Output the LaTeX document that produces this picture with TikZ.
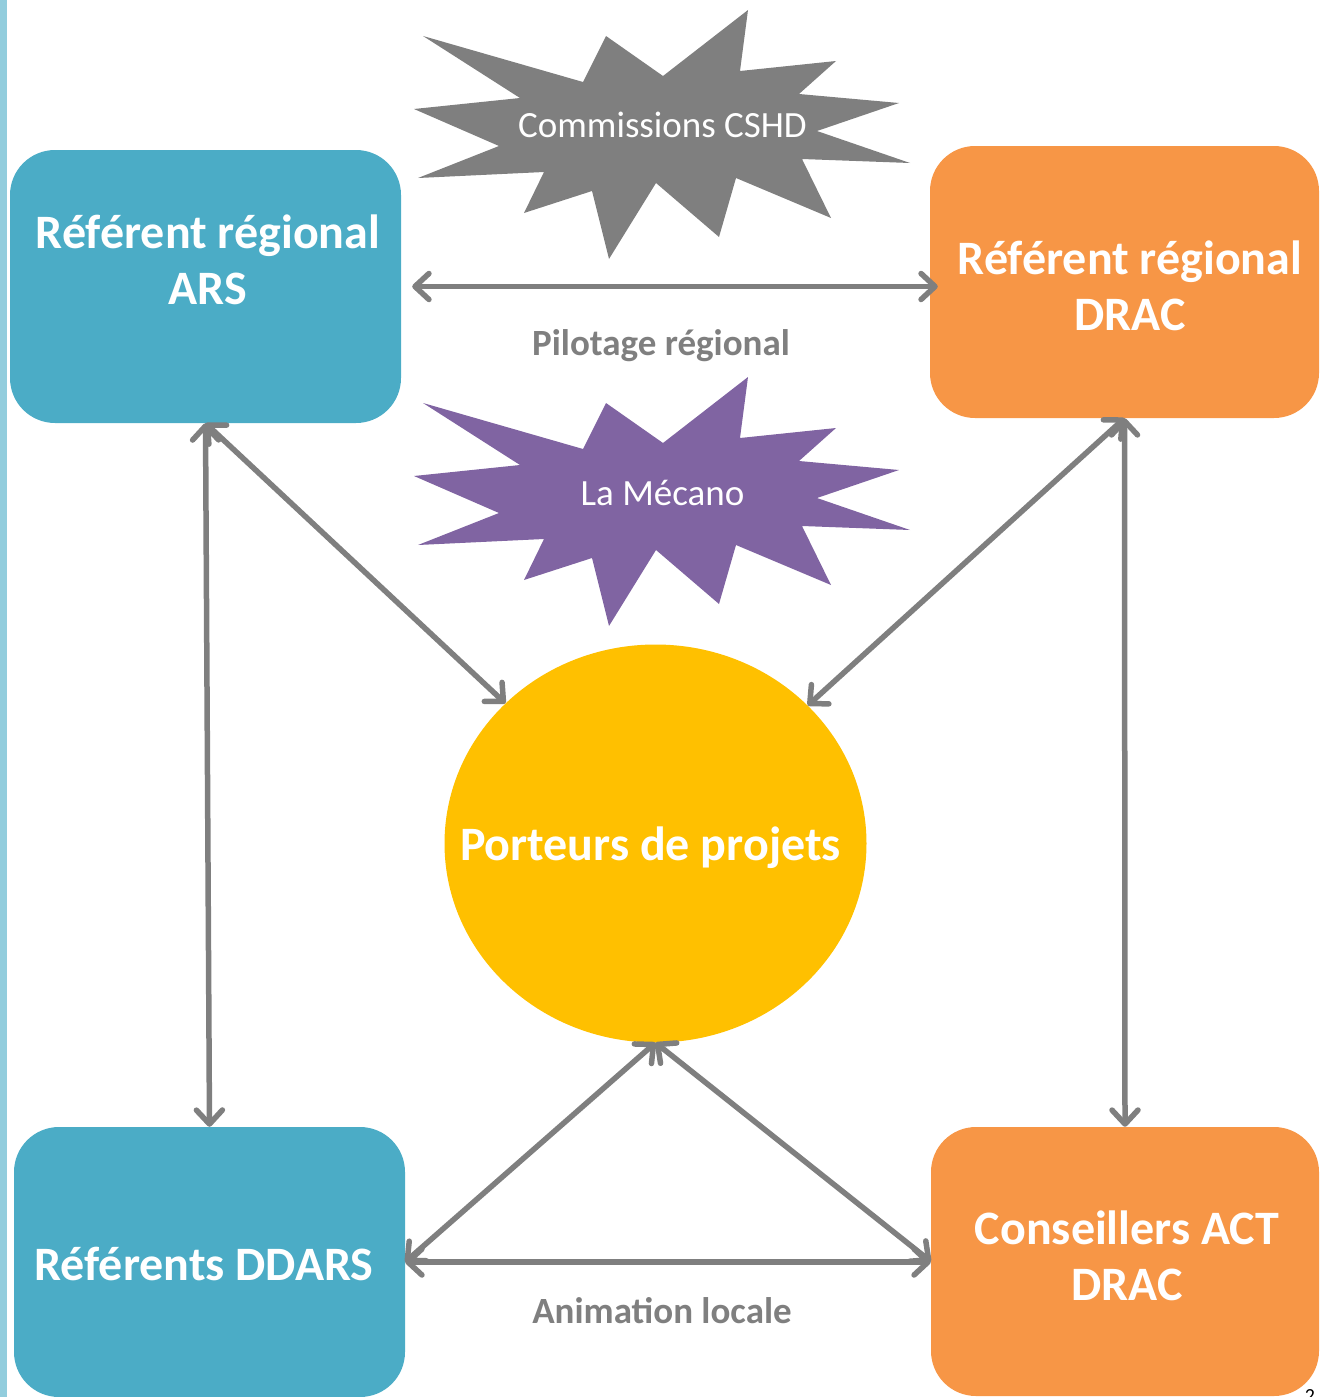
\documentclass[tikz,border=0pt]{standalone}
\usepackage{fontspec}
\setmainfont{Carlito}
\usetikzlibrary{arrows.meta,shapes.geometric}
\definecolor{ablue}{HTML}{4BACC6}
\definecolor{aorange}{HTML}{F79646}
\definecolor{ayellow}{HTML}{FFC000}
\definecolor{agray}{HTML}{7F7F7F}
\definecolor{apurple}{HTML}{8064A2}
\definecolor{astrip}{HTML}{92CDDD}
\begin{document}
\begin{tikzpicture}[x=1pt,y=-1pt,
  box/.style={rectangle, rounded corners=45pt, inner sep=0pt},
  boxtext/.style={text=white, font=\bfseries\fontsize{48}{56}\selectfont, align=center, inner sep=0pt},
  arr/.style={draw=agray, line width=5.5pt,
    {Straight Barb[length=14pt,width=26pt,round]}-{Straight Barb[length=14pt,width=26pt,round]}},
  lbl/.style={text=agray, font=\bfseries\fontsize{37}{42}\selectfont, inner sep=0pt},
  startext/.style={text=white, font=\fontsize{37}{42}\selectfont, inner sep=0pt}]

\useasboundingbox (0,0) rectangle (1320,1397);
\fill[astrip] (0,0) rectangle (7,1397);

% starbursts
\fill[agray] (423,36) -- (583,82) -- (606,36) -- (663,76) -- (748,10) -- (740,71)
  -- (836,61) -- (799,94) -- (899,103) -- (817,131) -- (910,163) -- (802,159)
  -- (831,218) -- (736,178) -- (719,237) -- (656,183) -- (609,259) -- (592,191)
  -- (524,213) -- (544,172) -- (418,178) -- (499,146) -- (414,109) -- (520,98) -- cycle;
\begin{scope}[shift={(0,367)}]
\fill[apurple] (423,36) -- (583,82) -- (606,36) -- (663,76) -- (748,10) -- (740,71)
  -- (836,61) -- (799,94) -- (899,103) -- (817,131) -- (910,163) -- (802,159)
  -- (831,218) -- (736,178) -- (719,237) -- (656,183) -- (609,259) -- (592,191)
  -- (524,213) -- (544,172) -- (418,178) -- (499,146) -- (414,109) -- (520,98) -- cycle;
\end{scope}
\node[startext, anchor=base] (cshd) at (662.5,137) {Commissions CSHD};
\node[startext, anchor=base] (meca) at (662.5,505) {La Mécano};

% boxes
\node[box, fill=ablue, minimum width=391pt, minimum height=273pt] (ars) at (205.5,286.5) {};
\node[box, fill=aorange, minimum width=389pt, minimum height=272pt] (dracr) at (1124.5,282) {};
\node[box, fill=ablue, minimum width=391pt, minimum height=270pt] (ddars) at (209.5,1262) {};
\node[box, fill=aorange, minimum width=388pt, minimum height=269pt] (cons) at (1125,1261.5) {};
\node[ellipse, fill=ayellow, minimum width=422pt, minimum height=398pt, inner sep=0pt] (por) at (655.5,843.5) {};

\node[boxtext, anchor=base] (arst) at (208,304) {Référent régional\\ARS};
\node[boxtext, anchor=base] (dract) at (1130,330) {Référent régional\\DRAC};
\node[boxtext, anchor=base] (ddarst) at (204,1280) {Référents DDARS};
\node[boxtext, anchor=base] (const) at (1127,1300) {Conseillers ACT\\DRAC};
\node[boxtext, anchor=base] (port) at (650.5,860) {Porteurs de projets};

% connectors
\draw[arr] ([xshift=11pt]ars.east) -- ([xshift=8pt]ars.east -| dracr.west);
\draw[arr] (ars.south) -- (ddars.north);
\draw[arr] (ars.south) -- (por);
\draw[arr] (dracr.south) -- (por);
\draw[arr] (dracr.south) -- (cons.north);
\draw[arr] (por.south) -- (ddars.east);
\draw[arr] (por.south) -- (cons.west);
\draw[arr] (ddars.east) -- (ddars.east -| cons.west);

\node[lbl, anchor=base] (pil) at (661,355) {Pilotage régional};
\node[lbl, anchor=base] (anim) at (662,1323) {Animation locale};

\begin{scope}
\clip (0,0) rectangle (1320,1397);
\node[anchor=north, inner sep=0pt, font=\fontsize{20}{22}\selectfont] (pnum) at (1310,1389) {2};
\end{scope}
\end{tikzpicture}
\end{document}
